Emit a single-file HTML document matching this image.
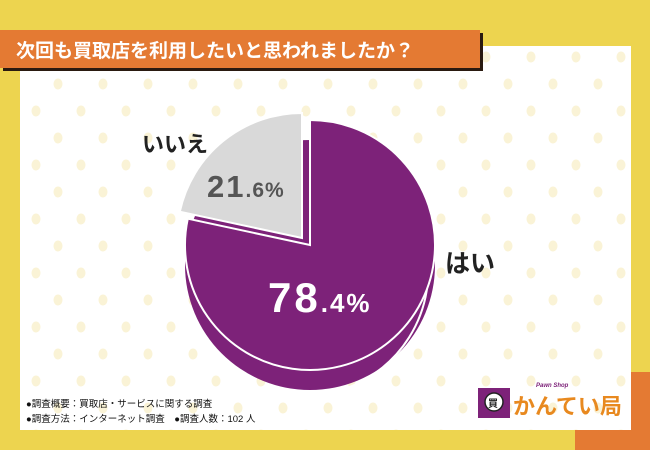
<!DOCTYPE html>
<html><head><meta charset="utf-8"><style>
body{margin:0;width:650px;height:450px;overflow:hidden;background:#edd44f;font-family:"Liberation Sans","Noto Sans CJK JP",sans-serif}
</style></head><body>
<svg width="650" height="450" xmlns="http://www.w3.org/2000/svg" style="position:absolute;left:0;top:0">
<defs>
<pattern id="dots" x="20" y="45" width="90" height="54" patternUnits="userSpaceOnUse">
<ellipse cx="16" cy="12" rx="4.5" ry="5.5" fill="#faf3d6"/>
<ellipse cx="61" cy="12" rx="4.5" ry="5.5" fill="#faf3d6"/>
<ellipse cx="38" cy="39" rx="4.5" ry="5.5" fill="#faf3d6"/>
<ellipse cx="83" cy="39" rx="4.5" ry="5.5" fill="#faf3d6"/>
</pattern>
</defs>
<rect x="575" y="372" width="75" height="78" fill="#e47a33"/>
<rect x="20" y="46" width="611" height="384" fill="#fff"/>
<rect x="20" y="46" width="611" height="384" fill="url(#dots)"/>
<rect x="3" y="33" width="480" height="38" fill="#2a1a10"/>
<rect x="0" y="30" width="480" height="38" fill="#e47a33"/>
<text x="16" y="57" font-size="19" font-weight="bold" fill="#fff">次回も買取店を利用したいと思われましたか？</text>
<circle cx="310" cy="265" r="125" fill="#7d2279"/>
<path d="M310,140 A125,125 0 1,1 187,219" fill="none" stroke="#fff" stroke-width="2" transform="translate(0,6)"/>
<path d="M310,245 L310,120 A125,125 0 1,1 187.8,218.7 Z" fill="#7d2279" stroke="#fff" stroke-width="2"/>
<path d="M302,238 L179.8,211.7 A125,125 0 0,1 302,113 Z" fill="#d9d9d9" stroke="#fff" stroke-width="2"/>
<text x="268" y="312" font-size="42" font-weight="bold" fill="#fff" letter-spacing="3">78<tspan font-size="26" letter-spacing="2">.4%</tspan></text>
<text x="207" y="197" font-size="31" font-weight="bold" fill="#555" letter-spacing="2">21<tspan font-size="21" letter-spacing="1">.6%</tspan></text>
<text x="142" y="152" font-size="22" font-weight="bold" fill="#222">いいえ</text>
<text x="445" y="272" font-size="25" font-weight="bold" fill="#222">はい</text>
<text x="26" y="407" font-size="9.5" fill="#111">●調査概要：買取店・サービスに関する調査</text>
<text x="26" y="422" font-size="9.5" fill="#111">●調査方法：インターネット調査　●調査人数：102 人</text>
<rect x="478" y="388" width="32" height="30" fill="#7d2279"/>
<circle cx="494" cy="402" r="9" fill="#fff" stroke="#222" stroke-width="1.5"/>
<text x="488" y="407" font-size="10" font-weight="bold" fill="#222">買</text>
<text x="536" y="387" font-size="6" font-style="italic" font-weight="bold" fill="#7d2279">Pawn  Shop</text>
<text x="513" y="414" font-size="22" font-weight="bold" fill="#e8891f">かんてい局</text>
</svg>
</body></html>
